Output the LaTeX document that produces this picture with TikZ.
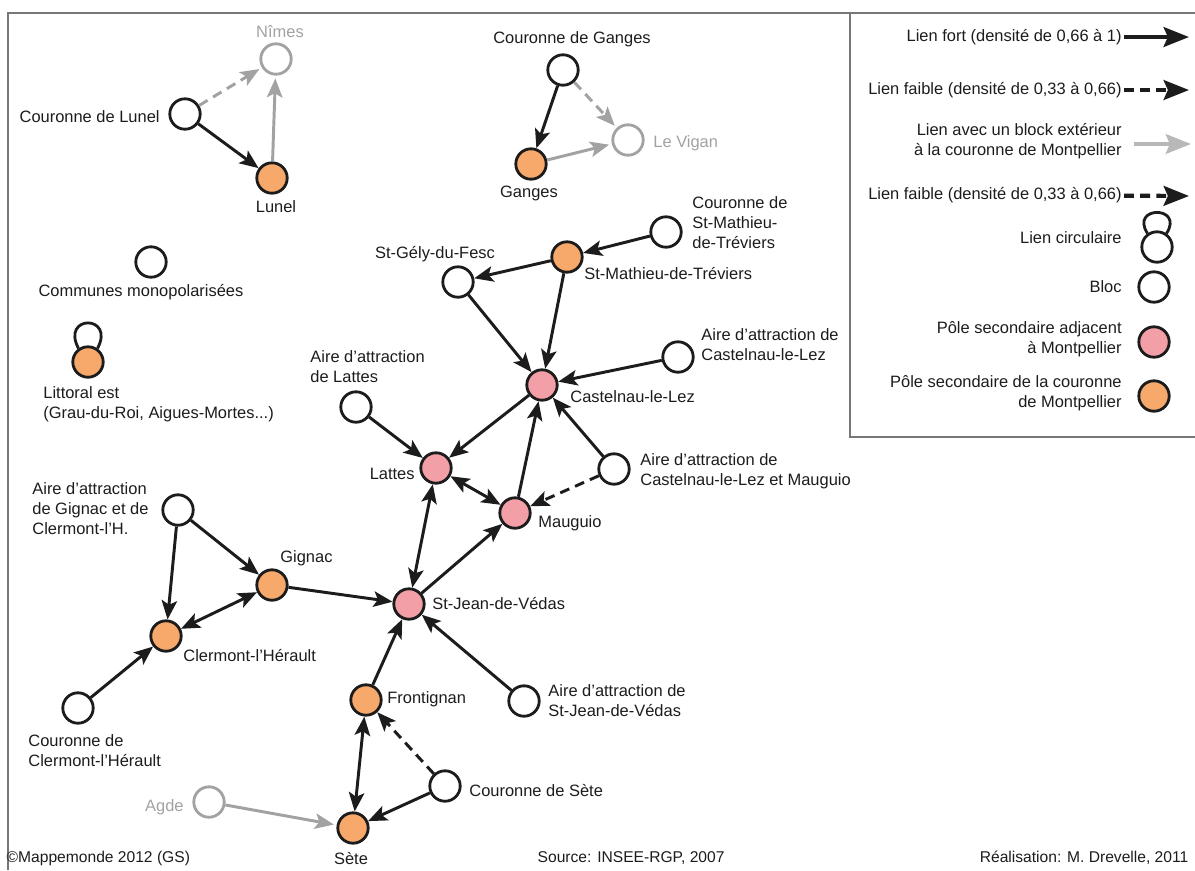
\documentclass[tikz,border=0pt]{standalone}
\usepackage{fontspec}
\setmainfont{Liberation Sans}
\usepackage{tikz}
\usetikzlibrary{arrows.meta}
\usepackage{xcolor}
\definecolor{noir}{HTML}{1C1C1C}
\definecolor{orangepole}{HTML}{F7A96C}
\definecolor{rosepole}{HTML}{F39FA7}
\definecolor{grislien}{HTML}{A2A2A2}
\definecolor{grisleg}{HTML}{B8B8B8}
\definecolor{griscadre}{HTML}{777777}

\begin{document}
\begin{tikzpicture}[x=0.025cm, y=-0.025cm,
    >={Stealth[length=13.5pt,width=11pt,inset=3pt]},
    bloc/.style={circle, draw=noir, line width=2pt, fill=white, minimum size=0.76cm, inner sep=0pt},
    ext/.style={bloc, draw=grislien},
    pole/.style={bloc, fill=orangepole},
    adj/.style={bloc, fill=rosepole},
    lbl/.style={font=\fontsize{11.7}{14.2}\selectfont, text=noir, inner sep=1.5pt},
    lblext/.style={lbl, text=grislien},
    pied/.style={font=\fontsize{11.1}{13}\selectfont, text=noir, inner sep=1pt},
    fort/.style={draw=noir, line width=2.1pt, ->},
    faible/.style={fort, dash pattern=on 7pt off 4.5pt},
    lienext/.style={draw=grislien, line width=2.1pt, ->, shorten >=2pt},
    lienextf/.style={lienext, dash pattern=on 7pt off 4.5pt},
    legfort/.style={draw=noir, line width=3pt, -{Stealth[length=18pt,width=14pt,inset=3pt]}},
    legfaible/.style={legfort, dash pattern=on 7pt off 4.5pt},
    legext/.style={draw=grisleg, line width=2.4pt, -{Stealth[length=18pt,width=14pt,inset=3pt]}},
    cadre/.style={draw=griscadre, line width=1.4pt}]
  \useasboundingbox (0,0) rectangle (1195,870);
  \draw[cadre] (8,870) -- (8,13) -- (1195,13);
  \draw[cadre] (850,13) -- (850,437) -- (1195,437);

  \foreach \n/\x/\y in {nimes/276/59, vigan/628/140, agde/209/802}
    \node[ext] (\n) at (\x,\y) {};
  \foreach \n/\x/\y in {courlunel/185/114, courganges/563/70, monopol/151/262,
      courstm/666/232, stgely/458/282, airecast/678/357, airelattes/356/407,
      airecm/614/469, airegignac/178/510, courclermont/78/708,
      airestjean/524/701, coursete/445/786}
    \node[bloc] (\n) at (\x,\y) {};
  \foreach \n/\x/\y in {lunel/272/178, ganges/531/164, littoral/88/362,
      stm/567/257, gignac/272/585, clermont/166/636, frontignan/366/700, sete/353/828}
    \node[pole] (\n) at (\x,\y) {};
  \foreach \n/\x/\y in {castelnau/542/385, lattes/436/468, mauguio/515/513, stjean/409/604}
    \node[adj] (\n) at (\x,\y) {};
  \draw[noir, line width=2pt] (littoral.125) .. controls +(-18,-34) and +(18,-34) .. (littoral.55);

  \node[lblext] (lnimes) at (280,32) {Nîmes};
  \node[lbl, anchor=east] (lcourlunel) at (162,117) {Couronne de Lunel};
  \node[lbl] (llunel) at (276,207) {Lunel};
  \node[lbl] (lcourganges) at (572,39) {Couronne de Ganges};
  \node[lbl] (lganges) at (529,193) {Ganges};
  \node[lblext, anchor=west] (lvigan) at (651,143) {Le Vigan};
  \node[lbl] (lmonopol) at (141,292) {Communes monopolarisées};
  \node[lbl, anchor=west, align=left] (llittoral) at (41,404) {Littoral est\\(Grau-du-Roi, Aigues-Mortes...)};
  \node[lbl, anchor=west, align=left] (lcourstm) at (690,223) {Couronne de\\St-Mathieu-\\de-Tréviers};
  \node[lbl, anchor=west] (lstm) at (582,274) {St-Mathieu-de-Tréviers};
  \node[lbl] (lstgely) at (435,254) {St-Gély-du-Fesc};
  \node[lbl, anchor=west, align=left] (lairecast) at (699,345) {Aire d’attraction de\\Castelnau-le-Lez};
  \node[lbl, anchor=west] (lcastelnau) at (568,397) {Castelnau-le-Lez};
  \node[lbl, anchor=west, align=left] (lairelattes) at (308,367) {Aire d’attraction\\de Lattes};
  \node[lbl, anchor=east] (llattes) at (417,474) {Lattes};
  \node[lbl, anchor=west, align=left] (lairecm) at (638,471) {Aire d’attraction de\\Castelnau-le-Lez et Mauguio};
  \node[lbl, anchor=west] (lmauguio) at (536,523) {Mauguio};
  \node[lbl, anchor=west, align=left] (lairegignac) at (30,509) {Aire d’attraction\\de Gignac et de\\Clermont-l’H.};
  \node[lbl, anchor=west] (lgignac) at (278,558) {Gignac};
  \node[lbl, anchor=west] (lstjean) at (430,604) {St-Jean-de-Védas};
  \node[lbl, anchor=west] (lclermont) at (181,656) {Clermont-l’Hérault};
  \node[lbl, anchor=west, align=left] (lcourclermont) at (26,751) {Couronne de\\Clermont-l’Hérault};
  \node[lbl, anchor=west] (lfrontignan) at (385,699) {Frontignan};
  \node[lbl, anchor=west, align=left] (lairestjean) at (546,701) {Aire d’attraction de\\St-Jean-de-Védas};
  \node[lbl, anchor=west] (lcoursete) at (467,791) {Couronne de Sète};
  \node[lblext, anchor=east] (lagde) at (186,807) {Agde};
  \node[lbl] (lsete) at (351,859) {Sète};

  \foreach \a/\b in {courlunel/lunel, courganges/ganges, courstm/stm, stm/stgely,
      stm/castelnau, stgely/castelnau, airecast/castelnau, castelnau/lattes,
      airelattes/lattes, mauguio/castelnau, airecm/castelnau, stjean/mauguio,
      gignac/stjean, airegignac/gignac, airegignac/clermont, courclermont/clermont,
      frontignan/stjean, airestjean/stjean, coursete/sete}
    \draw[fort] (\a) -- (\b);
  \foreach \a/\b in {lattes/mauguio, lattes/stjean, gignac/clermont, frontignan/sete}
    \draw[fort, <->] (\a) -- (\b);
  \foreach \a/\b in {airecm/mauguio, coursete/frontignan}
    \draw[faible] (\a) -- (\b);
  \foreach \a/\b in {lunel/nimes, ganges/vigan, agde/sete}
    \draw[lienext] (\a) -- (\b);
  \foreach \a/\b in {courlunel/nimes, courganges/vigan}
    \draw[lienextf] (\a) -- (\b);

  % legende
  \node[lbl, anchor=east] (tfort) at (1124,37) {Lien fort (densité de 0,66 à 1)};
  \node[lbl, anchor=east] (tfaible) at (1124,90) {Lien faible (densité de 0,33 à 0,66)};
  \node[lbl, anchor=east, align=right] (tlienext) at (1124,141) {Lien avec un block extérieur\\à la couronne de Montpellier};
  \node[lbl, anchor=east] (tfaiblebis) at (1124,195) {Lien faible (densité de 0,33 à 0,66)};
  \node[lbl, anchor=east] (tcirc) at (1124,238) {Lien circulaire};
  \node[lbl, anchor=east] (tbloc) at (1124,287) {Bloc};
  \node[lbl, anchor=east, align=right] (tadj) at (1124,339) {Pôle secondaire adjacent\\à Montpellier};
  \node[lbl, anchor=east, align=right] (tpole) at (1124,393) {Pôle secondaire de la couronne\\de Montpellier};
  \coordinate (ffort) at (1189,37);
  \coordinate (ffaible) at (1189,90);
  \coordinate (dext) at (1134,144);
  \coordinate (fext) at (1191,144);
  \coordinate (ffaiblebis) at (1189,196);
  \draw[legfort] (tfort) -- (ffort);
  \draw[legfaible] (tfaible) -- (ffaible);
  \draw[legext] (dext) -- (fext);
  \draw[legfaible] (tfaiblebis) -- (ffaiblebis);
  \node[bloc] (scirc) at (1157,247) {};
  \draw[noir, line width=2pt] (scirc.125) .. controls +(-18,-28) and +(18,-28) .. (scirc.55);
  \node[bloc] (sbloc) at (1154,287) {};
  \node[adj] (sadj) at (1154,342) {};
  \node[pole] (spole) at (1154,396) {};

  \node[pied, anchor=west] (copyr) at (5,858) {©Mappemonde 2012 (GS)};
  \node[pied, anchor=west] (source) at (536,858) {Source: INSEE-RGP, 2007};
  \node[pied, anchor=east] (realis) at (1190,858) {Réalisation: M. Drevelle, 2011};
\end{tikzpicture}
\end{document}
